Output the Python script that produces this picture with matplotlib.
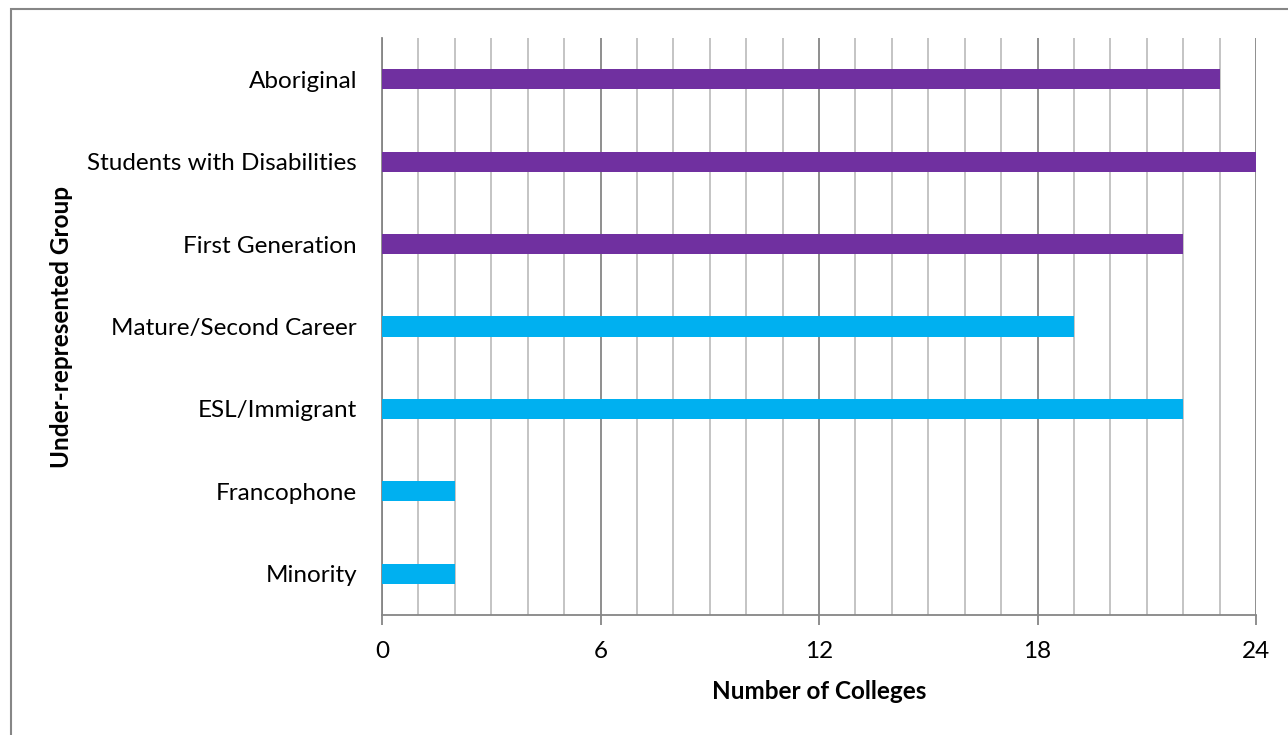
import matplotlib
matplotlib.use("Agg")
import matplotlib.pyplot as plt
from matplotlib.patches import Rectangle
from matplotlib.ticker import MultipleLocator

categories = ["Aboriginal", "Students with Disabilities", "First Generation",
              "Mature/Second Career", "ESL/Immigrant", "Francophone", "Minority"]
colleges = [23, 24, 22, 19, 22, 2, 2]
bar_colors = ["#7030A0", "#7030A0", "#7030A0",
              "#00B0F0", "#00B0F0", "#00B0F0", "#00B0F0"]
x_ticks = [0, 6, 12, 18, 24]

plt.rcParams["font.family"] = ["Lato", "DejaVu Sans"]

W, H = 1288, 735
fig = plt.figure(figsize=(W / 100, H / 100), dpi=100)
fig.patch.set_facecolor("white")

# chart-area frame
fig.patches.append(Rectangle((11 / W, -0.1), 1.2, 1 - 9 / H + 0.1,
                             transform=fig.transFigure, fill=False,
                             edgecolor="#868686", linewidth=1.5))

ax = fig.add_axes([382 / W, 1 - 615 / H, (1256 - 382) / W, (615 - 38) / H])

y = list(range(len(categories)))
ax.barh(y, colleges, height=0.245, color=bar_colors, zorder=3)

ax.set_xlim(0, 24)
ax.set_ylim(len(categories) - 0.5, -0.5)
ax.set_xticks(x_ticks)
ax.xaxis.set_minor_locator(MultipleLocator(1))
ax.set_yticks(y)
ax.set_yticklabels(categories)

ax.grid(axis="x", which="major", color="#868686", linewidth=1.3, zorder=0)
ax.grid(axis="x", which="minor", color="#BFBFBF", linewidth=1.3, zorder=0)

for side in ["top", "right"]:
    ax.spines[side].set_visible(False)
for side in ["left", "bottom"]:
    ax.spines[side].set_color("#868686")
    ax.spines[side].set_linewidth(1.3)

ax.tick_params(axis="x", which="major", length=7, width=1.3, color="#868686",
               labelsize=17.5, pad=12, labelcolor="black")
ax.tick_params(axis="x", which="minor", length=0)
ax.tick_params(axis="y", length=0, labelsize=17.5, pad=18, labelcolor="black")

ax.set_xlabel("Number of Colleges", fontsize=17.5, fontweight="bold", labelpad=13)
fig.text(62 / W, 1 - 327 / H, "Under-represented Group", rotation=90,
         fontsize=17.5, fontweight="bold", ha="center", va="center")

fig.savefig("out.png", dpi=100)
